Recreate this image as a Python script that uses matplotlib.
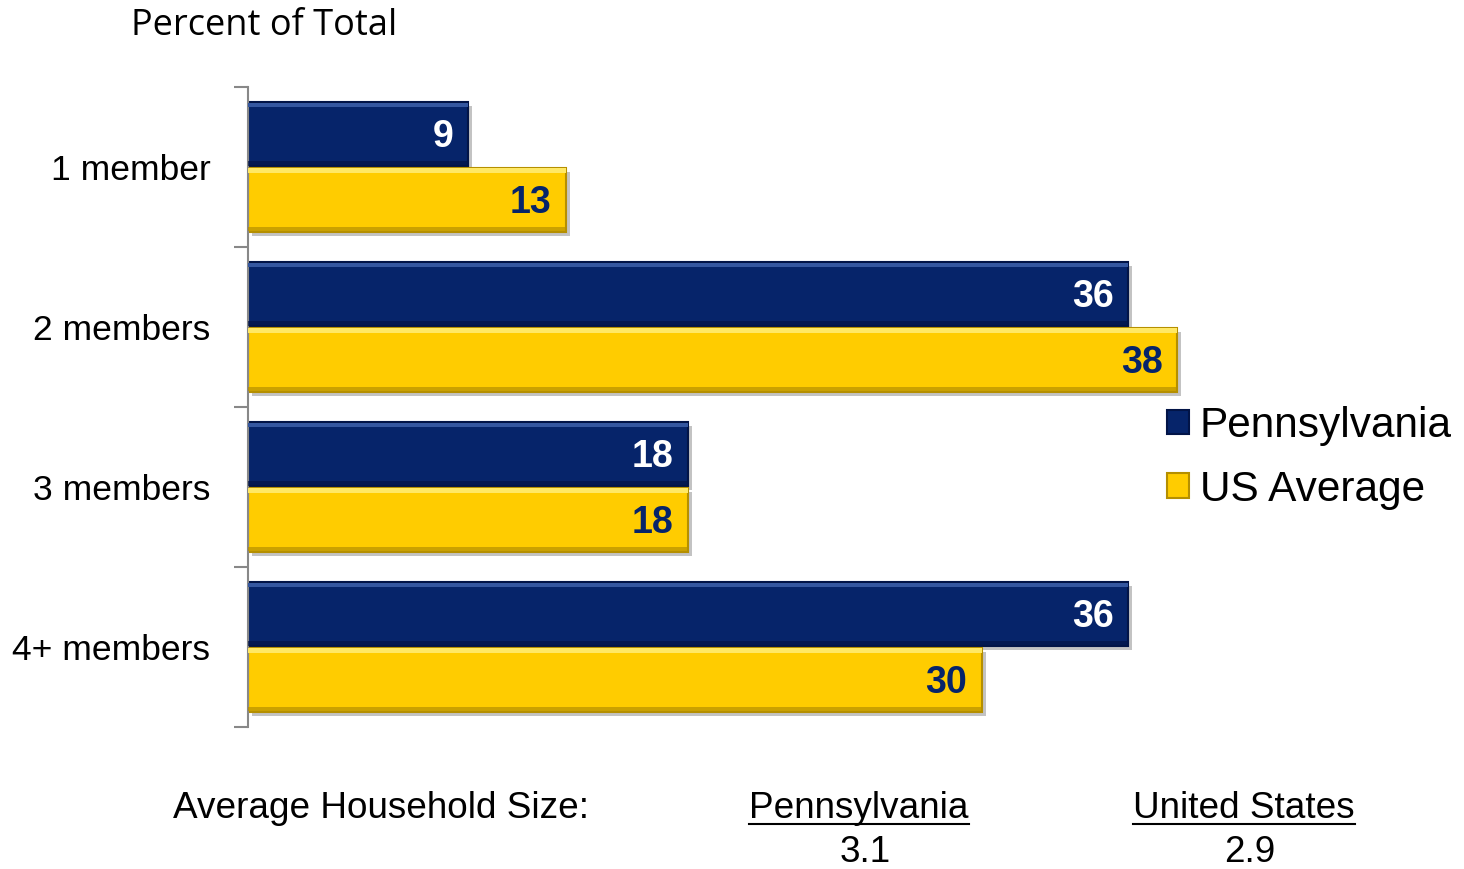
import matplotlib
matplotlib.use("Agg")
import matplotlib.pyplot as plt
import matplotlib.patheffects as pe
from matplotlib.patches import Patch
import numpy as np

# household size shares, percent of total
categories = ["1 member", "2 members", "3 members", "4+ members"]
pennsylvania = [9, 36, 18, 36]
us_average = [13, 38, 18, 30]
series_names = ["Pennsylvania", "US Average"]
avg_size = {"Pennsylvania": "3.1", "United States": "2.9"}

navy = "#06246a"
navy_edge = "#021447"
navy_light = "#3557a0"
gold = "#ffcc00"
gold_edge = "#b58f00"
gold_light = "#ffe866"

plt.rcParams["font.family"] = ["Liberation Sans", "DejaVu Sans"]

fig = plt.figure(figsize=(14.64, 8.69), dpi=100)
ax = fig.add_axes([248 / 1464, 1 - 727 / 869, (1182 - 248) / 1464, 640 / 869])

y = np.arange(len(categories))
h = 0.40
off = 0.205
shadow = [pe.SimplePatchShadow(offset=(3, -3), alpha=0.35, shadow_rgbFace="#555555"), pe.Normal()]


def bevel_bars(ypos, vals, face, edge, light, txtcolor):
    bars = ax.barh(ypos, vals, height=h, color=face, edgecolor=edge, linewidth=1.5,
                   path_effects=shadow, zorder=2)
    # lighter strip along the top edge, darker along the bottom
    ax.barh(ypos - h / 2 + 0.018, vals, height=0.03, color=light, linewidth=0, zorder=3)
    ax.barh(ypos + h / 2 - 0.018, vals, height=0.03, color=edge, linewidth=0, alpha=0.7, zorder=3)
    for yy, v in zip(ypos, vals):
        ax.text(v - 0.6, yy + 0.02, str(v), ha="right", va="center", fontsize=27,
                fontweight="bold", color=txtcolor, zorder=4)
    return bars


bevel_bars(y - off, pennsylvania, navy, navy_edge, navy_light, "white")
bevel_bars(y + off, us_average, gold, gold_edge, gold_light, navy)

ax.set_xlim(0, 38.2)
ax.set_ylim(len(categories) - 0.5, -0.5)
ax.set_xticks([])
for s in ["top", "right", "bottom"]:
    ax.spines[s].set_visible(False)
ax.spines["left"].set_color("#888888")
ax.spines["left"].set_linewidth(1.5)

ax.set_yticks(np.arange(len(categories) + 1) - 0.5)
ax.set_yticklabels([])
ax.tick_params(axis="y", which="major", length=10, width=1.5, color="#888888")
ax.set_yticks(y, categories, minor=True)
ax.tick_params(axis="y", which="minor", length=0, pad=27)
for lbl in ax.get_yticklabels(minor=True):
    lbl.set_fontsize(25.5)

handles = [Patch(facecolor=navy, edgecolor=navy_edge, linewidth=1.5),
           Patch(facecolor=gold, edgecolor=gold_edge, linewidth=1.5)]
fig.legend(handles, series_names, loc="center left", bbox_to_anchor=(1167 / 1464, 1 - 458 / 869),
           frameon=False, fontsize=30.5, handlelength=0.52, handleheight=0.52,
           handletextpad=0.25, labelspacing=0.56, borderpad=0, borderaxespad=0)

fig.text(131 / 1464, 1 - 26 / 869, "Percent of Total", fontsize=26, family=["Open Sans", "DejaVu Sans"],
         ha="left", va="center")

fig.text(173 / 1464, 1 - 808 / 869, "Average Household Size:", fontsize=26.6, ha="left", va="center")
for name, xc in zip(avg_size, [859, 1244]):
    fig.text(xc / 1464, 1 - 808 / 869, name, fontsize=26.6, ha="center", va="center")
    fig.text((xc + 6) / 1464, 1 - 853 / 869, avg_size[name], fontsize=26.6, ha="center", va="center")

# underline the state / country headers
fig.canvas.draw()
r = fig.canvas.get_renderer()
for t in fig.texts:
    if t.get_text() in avg_size:
        bb = t.get_window_extent(r)
        fig.add_artist(plt.Line2D([bb.x0 / 1464, bb.x1 / 1464], [(bb.y0 + 2) / 869] * 2,
                                  color="black", linewidth=1.5))

fig.savefig("out.png", dpi=100)
